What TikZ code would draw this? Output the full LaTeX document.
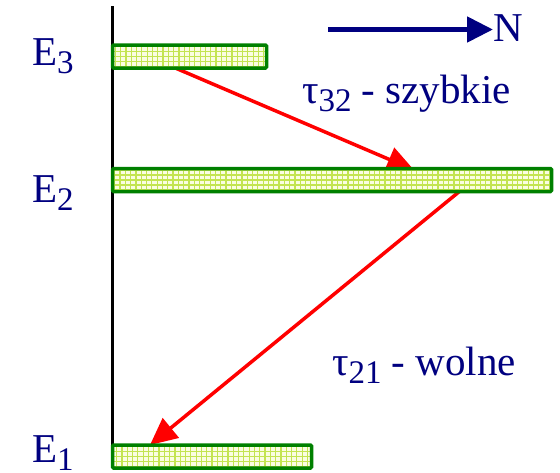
\documentclass[tikz,border=0pt]{standalone}
\usepackage{fontspec}
\setmainfont{Liberation Serif}
\usetikzlibrary{arrows.meta}
\definecolor{navyt}{RGB}{0,0,128}
\definecolor{bargreen}{RGB}{0,128,0}
\definecolor{gridgreen}{RGB}{195,228,80}
\definecolor{barbg}{RGB}{250,253,225}
\newcommand\lsub[1]{\raisebox{-8pt}{\fontsize{33}{33}\selectfont #1}}
\begin{document}
\begin{tikzpicture}[x=1pt,y=-1pt,
  lbl/.style={anchor=base west,inner sep=0pt,text=navyt,font=\fontsize{41}{41}\selectfont},
  levelbar/.style={draw=bargreen,line width=3.5pt,fill=barbg,rounded corners=1pt,inner sep=0pt,minimum height=23pt,
    path picture={\draw[gridgreen,line width=1.2pt]
      ([xshift=-2pt,yshift=-2pt]path picture bounding box.south west) grid[xstep=5.3pt,ystep=5pt]
      ([xshift=2pt,yshift=2pt]path picture bounding box.north east);}},
  decay/.style={red,line width=3.5pt,-{Triangle[length=27pt,width=25pt]}},
  naxis/.style={navyt,line width=5pt,-{Triangle[length=26pt,width=25pt]}}]
\useasboundingbox (0,0) rectangle (560,472);
% axis
\coordinate (axtop) at (112.5,6);
\coordinate (axbot) at (112.5,456);
\draw[black,line width=2.5pt] (axtop) -- (axbot);
% arrow endpoints
\coordinate (a1s) at (173,67);
\coordinate (a1e) at (414,170);
\coordinate (a2s) at (460,191);
\coordinate (a2e) at (150,445);
\draw[decay] (a1s) -- (a1e);
\draw[decay] (a2s) -- (a2e);
% bars
\node[levelbar,minimum width=154pt] (b3) at (189.5,56.5) {};
\node[levelbar,minimum width=439pt] (b2) at (332,180) {};
\node[levelbar,minimum width=199pt] (b1) at (212,456.5) {};
% labels
\node[lbl] (e3) at (32,65) {E\lsub{3}};
\node[lbl] (e2) at (32,202) {E\lsub{2}};
\node[lbl] (e1) at (32,462) {E\lsub{1}};
\node[lbl] (t32) at (302,103) {τ\lsub{32} - szybkie};
\node[lbl] (t21) at (332,375) {τ\lsub{21} - wolne};
% N arrow
\coordinate (ns) at (328,29.5);
\node[lbl] (nlab) at (493,41.7) {N};
\draw[naxis] (ns) -- (nlab.west |- ns);
\end{tikzpicture}
\end{document}
